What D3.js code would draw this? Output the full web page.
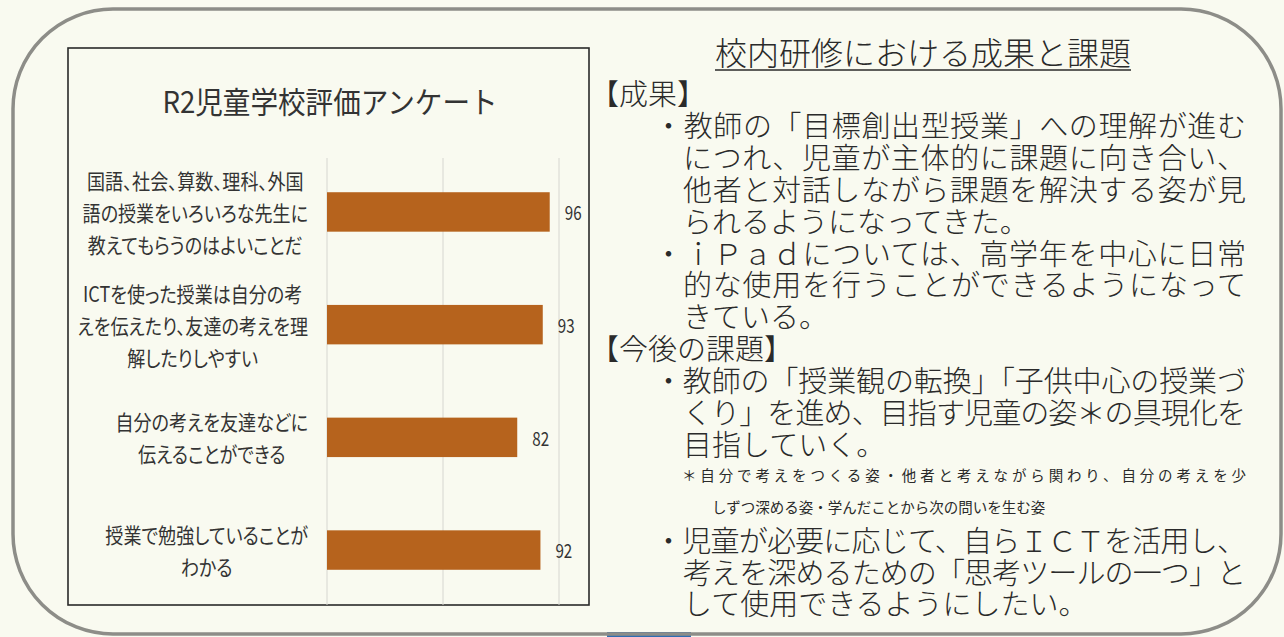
<!DOCTYPE html>
<html><head><meta charset="utf-8">
<script src="https://cdn.jsdelivr.net/npm/d3@7/dist/d3.min.js"></script>
<style>
html,body{margin:0;padding:0;background:#f9faf0;}
svg{display:block;}
text{font-family:"Noto Sans CJK JP","Noto Sans",sans-serif;}
.panel{font-family:"Noto Sans CJK JP Light","Noto Sans CJK JP",sans-serif;font-weight:300;}
.note{font-family:"Noto Sans CJK JP",sans-serif;font-weight:400;}
.cat{font-feature-settings:"palt" 1;}
</style></head>
<body>
<svg id="c" width="1284" height="637"></svg>
<script>
// ---- data ----
const chartTitle = "R2児童学校評価アンケート";
const categories = [
  ["国語、社会、算数、理科、外国", "語の授業をいろいろな先生に", "教えてもらうのはよいことだ"],
  ["ICTを使った授業は自分の考", "えを伝えたり、友達の考えを理", "解したりしやすい"],
  ["自分の考えを友達などに", "伝えることができる"],
  ["授業で勉強していることが", "わかる"]
];
const values = [96, 93, 82, 92];
const gridTicks = [0, 50, 100];

const panelTitle = "校内研修における成果と課題";
const panelLines = [
  "【成果】",
  "・教師の「目標創出型授業」への理解が進む",
  "につれ、児童が主体的に課題に向き合い、",
  "他者と対話しながら課題を解決する姿が見",
  "られるようになってきた。",
  "・ｉＰａｄについては、高学年を中心に日常",
  "的な使用を行うことができるようになって",
  "きている。",
  "【今後の課題】",
  "・教師の「授業観の転換」「子供中心の授業づ",
  "くり」を進め、目指す児童の姿＊の具現化を",
  "目指していく。",
  "＊自分で考えをつくる姿・他者と考えながら関わり、自分の考えを少",
  "しずつ深める姿・学んだことから次の問いを生む姿",
  "・児童が必要に応じて、自らＩＣＴを活用し、",
  "考えを深めるための「思考ツールの一つ」と",
  "して使用できるようにしたい。"
];
const noteLineIndex = [12, 13];

// ---- drawing ----
const svg = d3.select("#c");
svg.append("rect").attr("width",1284).attr("height",637).attr("fill","#f9faf0");

// outer rounded frame
svg.append("rect").attr("x",607).attr("y",632).attr("width",84).attr("height",5).attr("fill","#2d6db3");
svg.append("rect").attr("x",13).attr("y",9).attr("width",1268).attr("height",625)
  .attr("rx",100).attr("ry",100).attr("fill","none").attr("stroke","#8d8d88").attr("stroke-width",3.5);

// chart box
svg.append("rect").attr("x",68).attr("y",48).attr("width",521).attr("height",557)
  .attr("fill","none").attr("stroke","#2a2a2a").attr("stroke-width",1.6);

svg.append("text").attr("x",330).attr("y",100).attr("text-anchor","middle")
  .attr("dominant-baseline","central").attr("font-size",30).attr("fill","#333")
  .attr("transform","translate(330,100) scale(0.92,1) translate(-330,-100)")
  .text(chartTitle);

const x = d3.scaleLinear().domain([0,100]).range([327,559]);
const y = d3.scaleBand().domain(d3.range(values.length)).range([155.6,606.4])
  .paddingInner(0.65).paddingOuter(0.325);

// gridlines
svg.append("g").selectAll("line").data(gridTicks).join("line")
  .attr("x1",d=>x(d)).attr("x2",d=>x(d)).attr("y1",158).attr("y2",605)
  .attr("stroke","#d6d6d0").attr("stroke-width",1);

// bars
svg.append("g").selectAll("rect").data(values).join("rect")
  .attr("x",x(0)).attr("y",(d,i)=>y(i)).attr("width",d=>x(d)-x(0)).attr("height",y.bandwidth())
  .attr("fill","#b6631d");

// value labels
svg.append("g").selectAll("text").data(values).join("text")
  .attr("transform",(d,i)=>`translate(${x(d)+15},${y(i)+y.bandwidth()/2}) scale(0.8,1)`)
  .attr("dominant-baseline","central").attr("font-size",19).attr("fill","#333")
  .text(d=>d);

// category labels (lines centred, block right-aligned)
const sx = 0.86, lh = 32, labelRight = 308;
categories.forEach((lines,i)=>{
  const cy = y(i)+y.bandwidth()/2;
  const g = svg.append("g").attr("class","cat");
  const ts = g.selectAll("text").data(lines).join("text")
    .attr("text-anchor","middle").attr("dominant-baseline","central")
    .attr("font-size",21).attr("fill","#333").text(d=>d);
  let maxW = 0;
  ts.each(function(){ maxW = Math.max(maxW, this.getComputedTextLength()*sx); });
  const cx = labelRight - maxW/2;
  ts.attr("transform",(d,j)=>`translate(${cx},${cy + (j-(lines.length-1)/2)*lh}) scale(${sx},1)`);
});

// right panel
const pt = svg.append("text").attr("class","panel").attr("x",923).attr("y",51).attr("text-anchor","middle")
  .attr("dominant-baseline","central").attr("font-size",32).attr("fill","#2a2a2a").text(panelTitle);
const pb = pt.node().getBBox();
svg.append("line").attr("x1",pb.x).attr("x2",pb.x+pb.width).attr("y1",70).attr("y2",70)
  .attr("stroke","#2a2a2a").attr("stroke-width",1.5);

const lineStep = 31.9, firstY = 92, rightMargin = 1246;
const isNote = i => noteLineIndex.includes(i);
const isHead = d => d.startsWith("【");
const isCont = (i) => i < panelLines.length && !isHead(panelLines[i]) && !panelLines[i].startsWith("・") && !isNote(i);
const lineX = (d,i) => {
  if (isHead(d)) return 590;
  if (isNote(i)) return i===noteLineIndex[0] ? 682 : 712;
  if (d.startsWith("・")) return 654;
  return 683;
};
const justified = (d,i) => (!isHead(d) && !isNote(i) && isCont(i+1)) || i===noteLineIndex[0];

svg.append("g").selectAll("text").data(panelLines).join("text")
  .attr("class",(d,i)=>isNote(i)?"note":"panel")
  .attr("x",lineX)
  .attr("y",(d,i)=>firstY + i*lineStep)
  .attr("dominant-baseline","central")
  .attr("font-size",(d,i)=>isNote(i)?14.5:29)
  .attr("fill","#2a2a2a")
  .each(function(d,i){
    if (justified(d,i)) {
      d3.select(this).attr("textLength", rightMargin - lineX(d,i)).attr("lengthAdjust","spacing");
    }
  })
  .text(d=>d);
</script>
</body></html>
